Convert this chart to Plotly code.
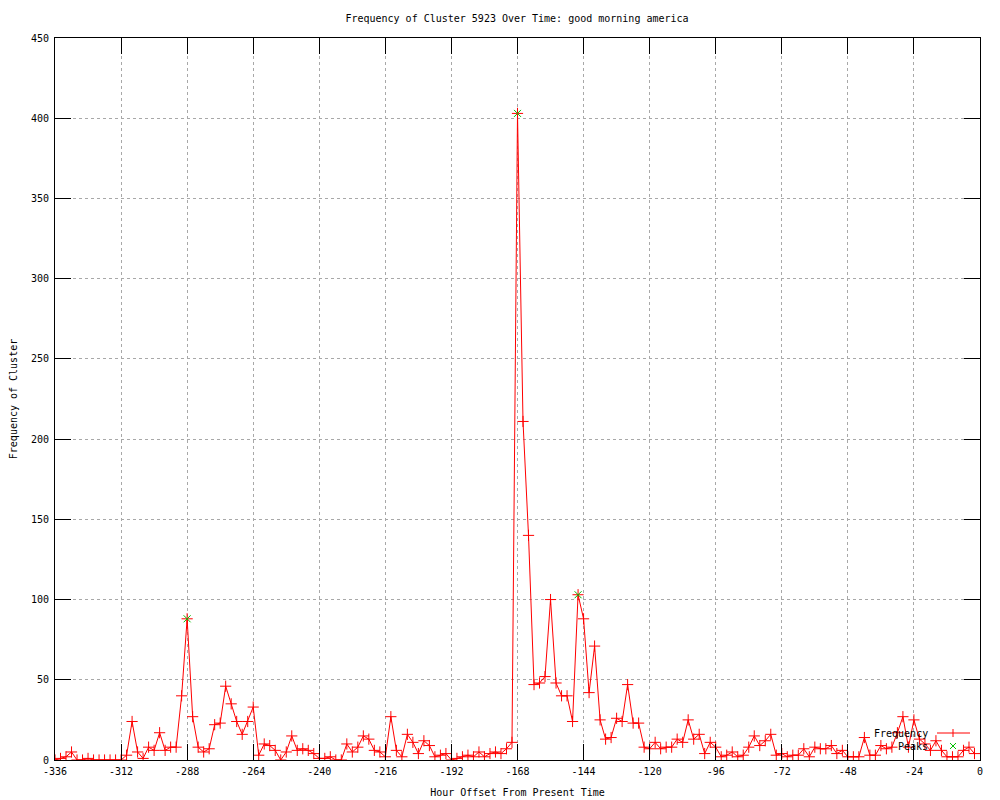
import plotly.graph_objects as go

# Hour offsets (every 2 hours from -336 to -2)
hours = list(range(-336, 0, 2))

frequency = [
    0, 1, 2, 5, 0, 0, 1, 0, 0, 0, 0, 0,          # -336 .. -314
    0, 3, 24, 5, 1, 8, 6, 17, 6, 8, 8, 40,       # -312 .. -290
    88, 27, 8, 5, 7, 22, 23, 46, 35, 24, 16, 24, # -288 .. -266
    33, 3, 10, 9, 6, 0, 5, 15, 6, 7, 6, 4,       # -264 .. -242
    1, 1, 2, 0, 0, 10, 5, 8, 15, 13, 6, 5,       # -240 .. -218
    2, 27, 6, 2, 16, 11, 4, 12, 9, 2, 3, 4,      # -216 .. -194
    0, 1, 2, 3, 2, 5, 2, 4, 5, 4, 7, 11,         # -192 .. -170
    403, 211, 140, 47, 48, 52, 100, 48, 40, 40, 24, 103,  # -168 .. -146
    88, 42, 71, 25, 13, 14, 26, 24, 47, 23, 23, 8,        # -144 .. -122
    7, 11, 7, 8, 8, 13, 11, 25, 13, 16, 4, 11,   # -120 .. -98
    8, 2, 3, 5, 2, 3, 8, 15, 9, 12, 16, 3,       # -96 .. -74
    4, 2, 3, 3, 7, 2, 8, 7, 7, 9, 4, 6,          # -72 .. -50
    2, 2, 2, 14, 3, 3, 9, 7, 8, 17, 27, 8,       # -48 .. -26
    25, 13, 10, 6, 12, 6, 2, 2, 2, 6, 8, 4,      # -24 .. -2
]

peak_hours = [-288, -168, -146]
peak_values = [88, 403, 103]

x_ticks = [-336, -312, -288, -264, -240, -216, -192, -168, -144, -120, -96, -72, -48, -24, 0]
y_ticks = [0, 50, 100, 150, 200, 250, 300, 350, 400, 450]

FONT = "DejaVu Sans Mono"
RED = "#ff0000"
GREEN = "#00c000"

# page offset (browser body margin)
OFF = 8
ML, MR, MT, MB = 55 - OFF, 20 + OFF, 38 - OFF, 40 + OFF

fig = go.Figure()
fig.add_trace(go.Scatter(
    x=hours, y=frequency, mode="lines+markers", name="Frequency",
    line=dict(color=RED, width=1),
    marker=dict(symbol="cross-thin", size=8, line=dict(color=RED, width=1), color=RED),
    showlegend=False,
))
fig.add_trace(go.Scatter(
    x=peak_hours, y=peak_values, mode="markers", name="Peaks",
    marker=dict(symbol="x-thin", size=7, line=dict(color=GREEN, width=1), color=GREEN),
    showlegend=False,
))

axis_common = dict(
    showline=True, linecolor="black", linewidth=1, mirror="ticks",
    ticks="inside", ticklen=16, tickcolor="black", tickwidth=1,
    showgrid=True, gridcolor="#a8a8a8", griddash="dot", gridwidth=1,
    zeroline=False, automargin=False,
    tickfont=dict(family=FONT, size=10, color="black"),
)

fig.update_layout(
    width=1000, height=800,
    margin=dict(l=ML, r=MR, t=MT, b=MB),
    paper_bgcolor="white", plot_bgcolor="white",
    title=dict(text="Frequency of Cluster 5923 Over Time: good morning america",
               x=(517 - OFF) / 1000, xanchor="center", y=1 - (18 - OFF) / 800, yanchor="middle",
               font=dict(family=FONT, size=10, color="black")),
    xaxis=dict(range=[-336, 0], tickvals=x_ticks, ticktext=[str(v) for v in x_ticks],
               ticklabelstandoff=2,
               title=dict(text="Hour Offset From Present Time", standoff=12,
                          font=dict(family=FONT, size=10, color="black")),
               **axis_common),
    yaxis=dict(range=[0, 450], tickvals=y_ticks, ticklabelstandoff=3,
               title=dict(text="Frequency of Cluster", standoff=12,
                          font=dict(family=FONT, size=10, color="black")),
               **axis_common),
    showlegend=False,
)

# Gnuplot-style key (text to the left of the sample), bottom right.
# Positions given in page pixels, converted to plot-area paper coordinates.
def px2paper_x(px):
    return (px - 55) / 925

def px2paper_y(py):
    return (760 - py) / 722

fig.add_annotation(x=px2paper_x(930), y=px2paper_y(733), xref="paper", yref="paper",
                   text="Frequency", showarrow=False, xanchor="right", yanchor="middle",
                   font=dict(family=FONT, size=10, color="black"))
fig.add_annotation(x=px2paper_x(930), y=px2paper_y(746), xref="paper", yref="paper",
                   text="Peaks", showarrow=False, xanchor="right", yanchor="middle",
                   font=dict(family=FONT, size=10, color="black"))
fig.add_shape(type="line", xref="paper", yref="paper",
              x0=px2paper_x(937), x1=px2paper_x(970), y0=px2paper_y(733), y1=px2paper_y(733),
              line=dict(color=RED, width=1))
fig.add_shape(type="line", xref="paper", yref="paper",
              x0=px2paper_x(953), x1=px2paper_x(953), y0=px2paper_y(729), y1=px2paper_y(737),
              line=dict(color=RED, width=1))
fig.add_shape(type="line", xref="paper", yref="paper",
              x0=px2paper_x(950), x1=px2paper_x(956), y0=px2paper_y(743), y1=px2paper_y(749),
              line=dict(color=GREEN, width=1))
fig.add_shape(type="line", xref="paper", yref="paper",
              x0=px2paper_x(950), x1=px2paper_x(956), y0=px2paper_y(749), y1=px2paper_y(743),
              line=dict(color=GREEN, width=1))

fig.write_html("out.html")
